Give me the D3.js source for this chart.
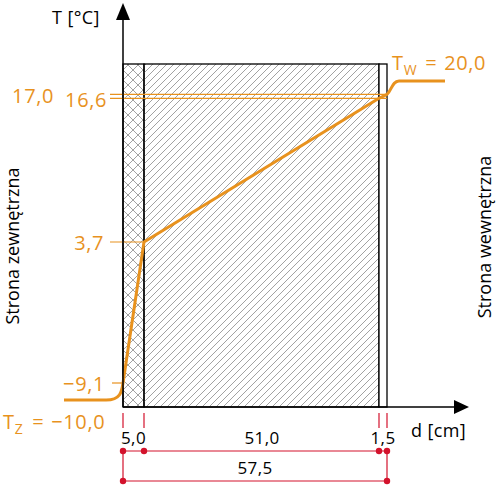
<!DOCTYPE html>
<html>
<head>
<meta charset="utf-8">
<script src="https://cdn.jsdelivr.net/npm/d3@7"></script>
<style>
  body { margin: 0; background: #fff; }
  svg { display: block; font-family: "Open Sans", sans-serif; }
</style>
</head>
<body>
<svg id="chart" width="500" height="492"></svg>
<script>
// layer boundaries [cm] and temperatures at those boundaries [°C]
var layerBounds = [0, 5.0, 56.0, 57.5];
var layerThick = [5.0, 51.0, 1.5];
var layerFill = ['cross', 'diag', 'none'];
var boundTemps = [-9.1, 3.7, 16.6, 17.0];
var tempOut = -10.0;
var tempIn = 20.0;
var totalThick = 57.5;

var orange = '#e8921e';
var red = '#d3122c';

function fmt(v) {
    return d3.format('.1f')(Math.abs(v)).replace('.', ',');
}
function fmtT(v) {
    return (v < 0 ? '\u2212' : '') + fmt(v);
}

function draw() {
    var svg = d3.select('#chart');

    // schematic (piecewise) scales, like the drawing
    var x = d3.scaleLinear()
        .domain([-14, 0, 5, 56, 57.5, 71])
        .range([64, 123, 144, 379, 387, 445]);
    var y = d3.scaleLinear()
        .domain([-10, -9.1, 3.7, 16.6, 17.0, 20])
        .range([400, 383, 242, 98.3, 94.3, 81]);

    var wallTop = 64;
    var axisY = 407;

    var defs = svg.append('defs');
    var diag = defs.append('pattern')
        .attr('id', 'diag')
        .attr('patternUnits', 'userSpaceOnUse')
        .attr('width', 7).attr('height', 7);
    diag.append('path')
        .attr('d', 'M-1,1 l2,-2 M0,7 l7,-7 M6,8 l2,-2')
        .attr('stroke', '#8a8a8a').attr('stroke-width', 0.8);
    var cross = defs.append('pattern')
        .attr('id', 'cross')
        .attr('patternUnits', 'userSpaceOnUse')
        .attr('x', x(0))
        .attr('width', 10).attr('height', 10);
    cross.append('path')
        .attr('d', 'M0,0 L10,10 M10,0 L0,10')
        .attr('stroke', '#8a8a8a').attr('stroke-width', 0.8);

    // wall layers
    for (var i = 0; i < layerThick.length; i++) {
        svg.append('rect')
            .attr('x', x(layerBounds[i]))
            .attr('y', wallTop)
            .attr('width', x(layerBounds[i + 1]) - x(layerBounds[i]))
            .attr('height', axisY - wallTop)
            .attr('fill', layerFill[i] == 'none' ? '#fff' : 'url(#' + layerFill[i] + ')')
            .attr('stroke', '#000')
            .attr('stroke-width', 1.3);
    }

    // reference lines for temperatures
    var t17 = boundTemps[3], t166 = boundTemps[2];
    [t17, t166].forEach(function (t) {
        svg.append('line')
            .attr('x1', 110).attr('x2', x(totalThick))
            .attr('y1', y(t)).attr('y2', y(t))
            .attr('stroke', orange).attr('stroke-width', 1.2);
    });
    svg.append('line')
        .attr('x1', 110).attr('x2', x(layerBounds[1]))
        .attr('y1', y(boundTemps[1])).attr('y2', y(boundTemps[1]))
        .attr('stroke', orange).attr('stroke-width', 1.2);
    svg.append('line')
        .attr('x1', 112).attr('x2', x(0))
        .attr('y1', y(boundTemps[0])).attr('y2', y(boundTemps[0]))
        .attr('stroke', orange).attr('stroke-width', 1.2);

    // temperature profile
    var p = d3.path();
    var x0 = x(0), y0 = y(boundTemps[0]);
    var x1 = x(layerBounds[1]), y1 = y(boundTemps[1]);
    var dx = x1 - x0, dy = y1 - y0, len = Math.sqrt(dx * dx + dy * dy);
    p.moveTo(x(-14), y(tempOut));
    p.lineTo(x(-4), y(tempOut));
    p.bezierCurveTo(x(-0.6), y(tempOut), x0 - dx / len * 9, y0 - dy / len * 9, x0, y0);
    for (var k = 1; k < layerBounds.length; k++) {
        p.lineTo(x(layerBounds[k]), y(boundTemps[k]));
    }
    var xe = x(totalThick), ye = y(boundTemps[3]);
    p.bezierCurveTo(xe + 5, ye - 4, xe + 5, y(tempIn), xe + 12, y(tempIn));
    p.lineTo(x(71), y(tempIn));
    svg.append('path')
        .attr('d', p.toString())
        .attr('fill', 'none')
        .attr('stroke', orange)
        .attr('stroke-width', 3)
        .attr('stroke-linejoin', 'round');

    // axes
    svg.append('line')
        .attr('x1', x(0)).attr('x2', x(0))
        .attr('y1', axisY).attr('y2', 18)
        .attr('stroke', '#000').attr('stroke-width', 1.5);
    svg.append('path')
        .attr('d', 'M' + (x(0) - 7) + ',20 L' + x(0) + ',3 L' + (x(0) + 7) + ',20 Z')
        .attr('fill', '#000');
    svg.append('line')
        .attr('x1', x(0)).attr('x2', 456)
        .attr('y1', axisY).attr('y2', axisY)
        .attr('stroke', '#000').attr('stroke-width', 1.5);
    svg.append('path')
        .attr('d', 'M454,' + (axisY - 7) + ' L469,' + axisY + ' L454,' + (axisY + 7) + ' Z')
        .attr('fill', '#000');

    svg.append('text').text('T [°C]')
        .attr('x', 52).attr('y', 24)
        .attr('font-size', 18).attr('letter-spacing', 0.4).attr('fill', '#000');
    svg.append('text').text('d [cm]')
        .attr('x', 411).attr('y', 437)
        .attr('font-size', 18).attr('letter-spacing', 0.4).attr('fill', '#000');

    // temperature labels
    svg.append('text').text(fmtT(t17))
        .attr('x', 54).attr('y', 103).attr('text-anchor', 'end')
        .attr('font-size', 20).attr('letter-spacing', 0.6).attr('fill', orange);
    svg.append('text').text(fmtT(t166))
        .attr('x', 107).attr('y', 107).attr('text-anchor', 'end')
        .attr('font-size', 20).attr('letter-spacing', 0.6).attr('fill', orange);
    svg.append('text').text(fmtT(boundTemps[1]))
        .attr('x', 104).attr('y', 250).attr('text-anchor', 'end')
        .attr('font-size', 20).attr('letter-spacing', 0.6).attr('fill', orange);
    svg.append('text').text(fmtT(boundTemps[0]))
        .attr('x', 105).attr('y', 391).attr('text-anchor', 'end')
        .attr('font-size', 20).attr('letter-spacing', 0.6).attr('fill', orange);

    var tz = svg.append('text').attr('x', 3).attr('y', 429)
        .attr('font-size', 20).attr('letter-spacing', 0.6).attr('fill', orange);
    tz.append('tspan').text('T');
    tz.append('tspan').text('Z').attr('font-size', 14).attr('dy', 5);
    tz.append('tspan').text('=').attr('dy', -5).attr('dx', 9);
    tz.append('tspan').text(fmtT(tempOut)).attr('dx', 7);

    var tw = svg.append('text').attr('x', 392).attr('y', 70)
        .attr('font-size', 20).attr('letter-spacing', 0.6).attr('fill', orange);
    tw.append('tspan').text('T');
    tw.append('tspan').text('W').attr('font-size', 14).attr('dy', 5);
    tw.append('tspan').text('=').attr('dy', -5).attr('dx', 8);
    tw.append('tspan').text(fmtT(tempIn)).attr('dx', 7);

    // side labels
    svg.append('text').text('Strona zewnętrzna')
        .attr('transform', 'translate(19,246) rotate(-90)')
        .attr('text-anchor', 'middle')
        .attr('font-size', 18).attr('fill', '#000');
    svg.append('text').text('Strona wewnętrzna')
        .attr('transform', 'translate(491,237) rotate(-90)')
        .attr('text-anchor', 'middle')
        .attr('font-size', 18).attr('fill', '#000');

    // dimension lines
    var row1 = 451, row2 = 481;
    layerBounds.forEach(function (b) {
        svg.append('line')
            .attr('x1', x(b)).attr('x2', x(b))
            .attr('y1', 413).attr('y2', 428)
            .attr('stroke', red).attr('stroke-width', 1.2);
    });
    svg.append('line')
        .attr('x1', x(0)).attr('x2', x(totalThick))
        .attr('y1', row1).attr('y2', row1)
        .attr('stroke', red).attr('stroke-width', 1.2);
    svg.append('line')
        .attr('x1', x(0)).attr('x2', x(totalThick))
        .attr('y1', row2).attr('y2', row2)
        .attr('stroke', red).attr('stroke-width', 1.2);
    [0, totalThick].forEach(function (b) {
        svg.append('line')
            .attr('x1', x(b)).attr('x2', x(b))
            .attr('y1', row1).attr('y2', row2)
            .attr('stroke', red).attr('stroke-width', 1.2);
        svg.append('circle')
            .attr('cx', x(b)).attr('cy', row2).attr('r', 3.2).attr('fill', red);
    });
    layerBounds.forEach(function (b) {
        svg.append('circle')
            .attr('cx', x(b)).attr('cy', row1).attr('r', 3.2).attr('fill', red);
    });
    for (var j = 0; j < layerThick.length; j++) {
        var cx = (x(layerBounds[j]) + x(layerBounds[j + 1])) / 2;
        if (j == 1) cx = 262;
        svg.append('text').text(fmt(layerThick[j]))
            .attr('x', cx).attr('y', 444)
            .attr('text-anchor', 'middle')
            .attr('font-size', 17).attr('letter-spacing', 0.4).attr('fill', '#000');
    }
    svg.append('text').text(fmt(totalThick))
        .attr('x', 255).attr('y', 474)
        .attr('text-anchor', 'middle')
        .attr('font-size', 17).attr('letter-spacing', 0.4).attr('fill', '#000');
}

window.onload = draw;
</script>
</body>
</html>
